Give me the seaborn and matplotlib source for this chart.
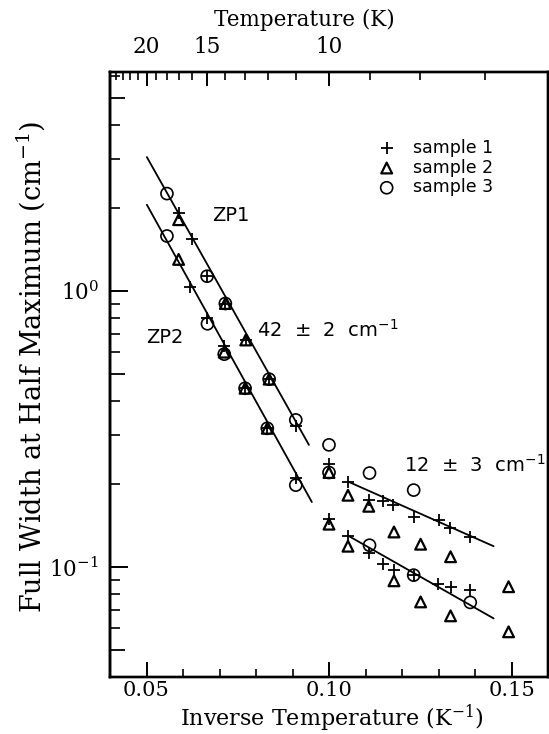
import numpy as np
import matplotlib
matplotlib.use("Agg")
import matplotlib.pyplot as plt
import seaborn as sns
from matplotlib.ticker import FixedLocator, NullFormatter, NullLocator, FuncFormatter, LogLocator

# ---------------- data ----------------
# sample 1 (+)
s1_x = [0.0588, 0.0625, 0.0666, 0.0716, 0.0772, 0.0836, 0.0909,
        0.1000, 0.1052, 0.1109, 0.1148, 0.1176, 0.1232, 0.1300, 0.1331, 0.1387,
        0.0620, 0.0667, 0.0713, 0.0770, 0.0831, 0.0909,
        0.1000, 0.1052, 0.1109, 0.1148, 0.1178, 0.1232, 0.1299, 0.1333, 0.1387]
s1_y = [1.92, 1.54, 1.13, 0.90, 0.664, 0.479, 0.324,
        0.237, 0.204, 0.175, 0.173, 0.168, 0.152, 0.148, 0.139, 0.128,
        1.03, 0.80, 0.63, 0.444, 0.318, 0.21,
        0.149, 0.130, 0.112, 0.103, 0.0975, 0.0935, 0.0867, 0.0849, 0.0826]
# sample 2 (open triangles)
s2_x = [0.0588, 0.0716, 0.0772, 0.0836, 0.1000, 0.1052, 0.1109, 0.1178, 0.1251, 0.1333, 0.1492,
        0.0588, 0.0713, 0.0770, 0.0831, 0.1000, 0.1052, 0.1178, 0.1251, 0.1333, 0.1492]
s2_y = [1.81, 0.90, 0.664, 0.479, 0.220, 0.182, 0.166, 0.134, 0.121, 0.109, 0.0849,
        1.30, 0.60, 0.444, 0.318, 0.143, 0.119, 0.0892, 0.0748, 0.0666, 0.0583]
# sample 3 (open circles)
s3_x = [0.0556, 0.0666, 0.0716, 0.0836, 0.0909, 0.1000, 0.1111, 0.1232,
        0.0556, 0.0667, 0.0713, 0.0770, 0.0831, 0.0909, 0.1000, 0.1111, 0.1232, 0.1387]
s3_y = [2.25, 1.13, 0.90, 0.479, 0.341, 0.277, 0.219, 0.190,
        1.58, 0.76, 0.59, 0.444, 0.318, 0.198, 0.220, 0.120, 0.0935, 0.0745]

# fitted lines (end points)
fit_zp1_hi_x = [0.0501, 0.0945]
fit_zp1_hi_y = [3.05, 0.277]
fit_zp2_hi_x = [0.0501, 0.0953]
fit_zp2_hi_y = [2.05, 0.172]
fit_zp1_lo_x = [0.1052, 0.1451]
fit_zp1_lo_y = [0.204, 0.119]
fit_zp2_lo_x = [0.1052, 0.1451]
fit_zp2_lo_y = [0.130, 0.0652]

series_labels = ["sample 1", "sample 2", "sample 3"]
x_ticks = [0.05, 0.10, 0.15]
x_tick_labels = ["0.05", "0.10", "0.15"]
x_minor = [0.04, 0.06, 0.07, 0.08, 0.09, 0.11, 0.12, 0.13, 0.14, 0.16]
y_ticks = [0.1, 1.0]
y_tick_labels = [r"$10^{-1}$", r"$10^{0}$"]
y_mid_ticks = [0.05, 0.5, 5]
top_T_major = [20, 15, 10]
top_T_minor = [24, 23, 22, 21, 19, 18, 17, 16, 14, 13, 12, 11, 9, 8, 7]

# ---------------- style ----------------
sns.set_theme(style="ticks")
plt.rcParams["font.family"] = ["DejaVu Serif"]
plt.rcParams["mathtext.fontset"] = "dejavuserif"
plt.rcParams["axes.linewidth"] = 1.7
for key in ["text.color", "axes.labelcolor", "xtick.color", "ytick.color", "axes.edgecolor"]:
    plt.rcParams[key] = "black"

fig = plt.figure(figsize=(5.49, 7.34), dpi=100)
ax = fig.add_axes([110 / 549, 57 / 734, 438 / 549, 605 / 734])
ax.set_yscale("log")

sns.scatterplot(x=s1_x, y=s1_y, ax=ax, marker="+", s=80, color="black",
                linewidth=1.3, label=series_labels[0], zorder=3)
sns.scatterplot(x=s2_x, y=s2_y, ax=ax, marker="^", s=60, facecolor="none",
                edgecolor="black", linewidth=1.6, label=series_labels[1], zorder=3)
sns.scatterplot(x=s3_x, y=s3_y, ax=ax, marker="o", s=75, facecolor="none",
                edgecolor="black", linewidth=1.2, label=series_labels[2], zorder=3)

for fx, fy in [(fit_zp1_hi_x, fit_zp1_hi_y), (fit_zp2_hi_x, fit_zp2_hi_y),
               (fit_zp1_lo_x, fit_zp1_lo_y), (fit_zp2_lo_x, fit_zp2_lo_y)]:
    sns.lineplot(x=fx, y=fy, ax=ax, color="black", linewidth=1.3, zorder=2)

ax.set_xlim(0.04, 0.16)
ax.set_ylim(0.04, 6.2)

# bottom ticks
ax.xaxis.set_major_locator(FixedLocator(x_ticks))
ax.set_xticklabels(x_tick_labels)
ax.xaxis.set_minor_locator(FixedLocator(x_minor))
ax.tick_params(axis="x", which="major", direction="in", length=11, width=1.4,
               labelsize=15, pad=3, top=False, bottom=True)
ax.tick_params(axis="x", which="minor", direction="in", length=6, width=1.2,
               top=False, bottom=True)

# left ticks
ax.yaxis.set_major_locator(FixedLocator(y_ticks))
ax.yaxis.set_major_formatter(FuncFormatter(lambda v, p: y_tick_labels[y_ticks.index(v)] if v in y_ticks else ""))
ax.yaxis.set_minor_locator(LogLocator(base=10, subs=(2, 3, 4, 6, 7, 8, 9), numticks=20))
ax.yaxis.set_minor_formatter(NullFormatter())
ax.tick_params(axis="y", which="major", direction="in", length=13, width=1.4,
               labelsize=15.5, pad=8, right=False, left=True)
ax.tick_params(axis="y", which="minor", direction="in", length=7, width=1.2,
               right=False, left=True)

sec = ax.secondary_yaxis("left")
sec.set_yticks(y_mid_ticks)
sec.yaxis.set_major_formatter(NullFormatter())
sec.yaxis.set_minor_locator(NullLocator())
sec.tick_params(axis="y", which="major", direction="in", length=11, width=1.3)

ax.set_xlabel("Inverse Temperature (K$^{-1}$)", fontsize=16, va="bottom")
ax.xaxis.set_label_coords(0.507, -0.0945)
ax.set_ylabel("Full Width at Half Maximum (cm$^{-1}$)", fontsize=19.5)
ax.yaxis.set_label_coords(-0.144, 0.512)

# top axis: temperature
ax2 = ax.twiny()
ax2.set_xlim(ax.get_xlim())
ax2.xaxis.set_major_locator(FixedLocator([1 / t for t in top_T_major]))
ax2.set_xticklabels([str(t) for t in top_T_major])
ax2.xaxis.set_minor_locator(FixedLocator([1 / t for t in top_T_minor]))
ax2.tick_params(axis="x", which="major", direction="in", length=10, width=1.4,
                labelsize=15.5, pad=10)
ax2.tick_params(axis="x", which="minor", direction="in", length=6, width=1.2)
ax2.set_xlabel("Temperature (K)", fontsize=15.5)
ax2.xaxis.set_label_coords(0.443, 1.076)

# annotations
sans = {"family": "DejaVu Sans", "size": 14}
ax.text(0.0680, 1.87, "ZP1", fontdict=sans, va="center", ha="left")
ax.text(0.0500, 0.676, "ZP2", fontdict=sans, va="center", ha="left")
ax.text(0.0803, 0.722, "42  ±  2  cm$^{-1}$", fontdict=sans, va="center", ha="left",
        math_fontfamily="dejavusans")
ax.text(0.1205, 0.234, "12  ±  3  cm$^{-1}$", fontdict=sans, va="center", ha="left",
        math_fontfamily="dejavusans")

leg = ax.legend(loc="upper left", bbox_to_anchor=(0.596, 0.901), frameon=False,
                prop={"family": "DejaVu Sans", "size": 12.5}, scatterpoints=1,
                handlelength=1.0, handletextpad=1.0, labelspacing=0.1,
                borderaxespad=0.0)

fig.savefig("out.png", dpi=100)
